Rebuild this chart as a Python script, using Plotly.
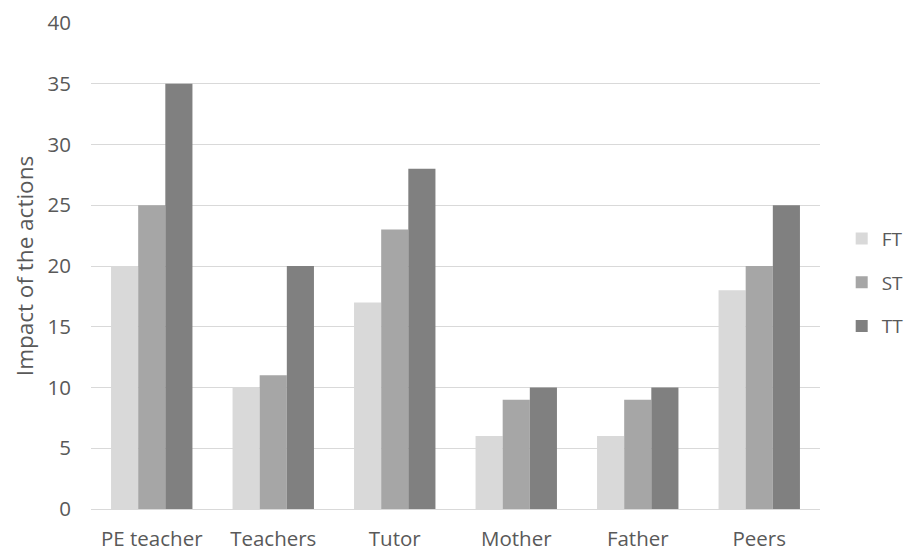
import plotly.graph_objects as go

categories = ["PE teacher", "Teachers", "Tutor", "Mother", "Father", "Peers"]
ft = [20, 10, 17, 6, 6, 18]
st = [25, 11, 23, 9, 9, 20]
tt = [35, 20, 28, 10, 10, 25]
series_names = ["FT", "ST", "TT"]
colors = ["#d9d9d9", "#a6a6a6", "#808080"]

fig = go.Figure()
for name, vals, col in zip(series_names, [ft, st, tt], colors):
    fig.add_trace(go.Bar(x=categories, y=vals, name=name, marker_color=col,
                         marker_line_width=0, legendgroup=name))

font_family = "Open Sans, Liberation Sans, sans-serif"
fig.update_layout(
    width=907, height=551,
    margin=dict(l=91, r=87, t=23, b=42, autoexpand=False),
    paper_bgcolor="white", plot_bgcolor="white",
    barmode="group", bargap=0.33, bargroupgap=0,
    font=dict(family=font_family, size=20, color="#595959"),
    legend=dict(xref="container", yref="container", x=0.928, y=0.487,
                xanchor="left", yanchor="middle",
                font=dict(size=19, color="#595959"),
                tracegroupgap=16, itemwidth=30),
    showlegend=True,
)
fig.update_yaxes(range=[0, 40], dtick=5, showgrid=True, gridcolor="#d9d9d9",
                 gridwidth=1, zeroline=False, showline=False, ticks="",
                 ticklabelstandoff=19, automargin=False,
                 tickfont=dict(size=20.5, color="#595959"),
                 title=dict(text="Impact of the actions", font=dict(size=22.5, color="#595959"), standoff=7))
fig.update_xaxes(showline=True, linecolor="#d9d9d9", linewidth=1, ticks="",
                 ticklabelstandoff=11, automargin=False,
                 tickfont=dict(size=20.5, color="#595959"))

fig.write_html("out.html")
